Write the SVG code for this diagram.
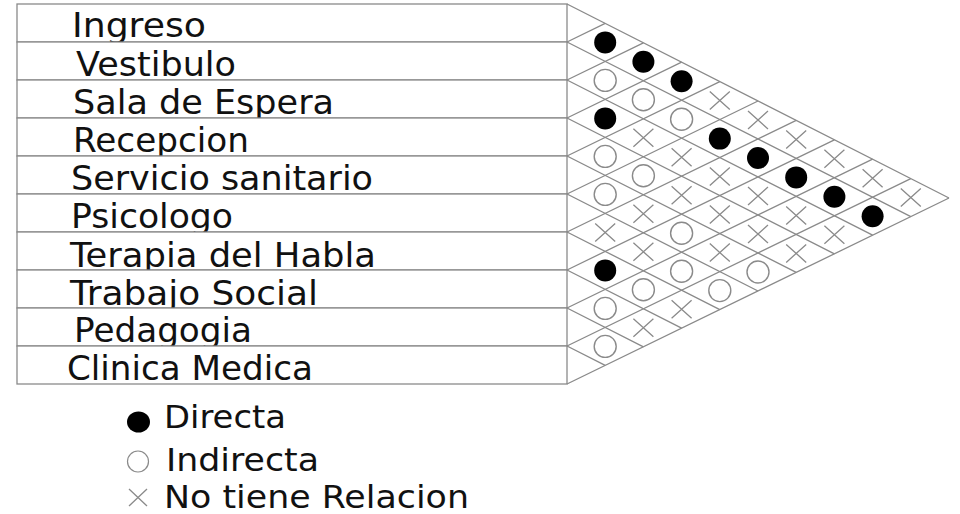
<svg xmlns="http://www.w3.org/2000/svg" xmlns:xlink="http://www.w3.org/1999/xlink" width="960" height="514" viewBox="0 0 960 514">
<style>
.row{fill:#fff;stroke:#8a8a8a;stroke-width:1.3}
.lbl{font-family:"DejaVu Sans","Verdana",sans-serif;font-size:33px;fill:#111}
.leg{font-family:"DejaVu Sans","Verdana",sans-serif;font-size:31.5px;fill:#111}
.grid{stroke:#8a8a8a;stroke-width:1.3;fill:none}
.ring{fill:none;stroke:#8a8a8a;stroke-width:1.4}
.cross{stroke:#8a8a8a;stroke-width:1.3;fill:none}
</style>
<defs>
<circle id="dot" r="11" fill="#000"/>
<circle id="ring" r="11" class="ring"/>
<path id="x" d="M-10,-9 L10,9 M-10,9 L10,-9" class="cross"/>
</defs>
<rect width="960" height="514" fill="#fff"/>
<g id="row-ingreso"><rect class="row" x="17" y="4" width="550" height="38"/><text class="lbl" x="72" y="37" textLength="134" lengthAdjust="spacingAndGlyphs">Ingreso</text></g>
<g id="row-vestibulo"><rect class="row" x="17" y="42" width="550" height="38"/><text class="lbl" x="76" y="76" textLength="160" lengthAdjust="spacingAndGlyphs">Vestibulo</text></g>
<g id="row-sala"><rect class="row" x="17" y="80" width="550" height="38"/><text class="lbl" x="73" y="114" textLength="261" lengthAdjust="spacingAndGlyphs">Sala de Espera</text></g>
<g id="row-recepcion"><rect class="row" x="17" y="118" width="550" height="38"/><text class="lbl" x="73" y="152" textLength="176" lengthAdjust="spacingAndGlyphs">Recepcion</text></g>
<g id="row-servicio"><rect class="row" x="17" y="156" width="550" height="38"/><text class="lbl" x="71" y="190" textLength="302" lengthAdjust="spacingAndGlyphs">Servicio sanitario</text></g>
<g id="row-psicologo"><rect class="row" x="17" y="194" width="550" height="38"/><text class="lbl" x="71" y="228" textLength="162" lengthAdjust="spacingAndGlyphs">Psicologo</text></g>
<g id="row-terapia"><rect class="row" x="17" y="232" width="550" height="38"/><text class="lbl" x="70" y="267" textLength="306" lengthAdjust="spacingAndGlyphs">Terapia del Habla</text></g>
<g id="row-trabajo"><rect class="row" x="17" y="270" width="550" height="38"/><text class="lbl" x="70" y="305" textLength="248" lengthAdjust="spacingAndGlyphs">Trabajo Social</text></g>
<g id="row-pedagogia"><rect class="row" x="17" y="308" width="550" height="38"/><text class="lbl" x="74" y="342" textLength="178" lengthAdjust="spacingAndGlyphs">Pedagogia</text></g>
<g id="row-clinica"><rect class="row" x="17" y="346" width="550" height="38"/><text class="lbl" x="67" y="380" textLength="246" lengthAdjust="spacingAndGlyphs">Clinica Medica</text></g>
<g id="connectors" class="grid">
<path d="M567,4 L949,198 M567,42 L910.8,216.6 M567,80 L872.6,235.2 M567,118 L834.4,253.8 M567,156 L796.2,272.4 M567,194 L758,291 M567,232 L719.8,309.6 M567,270 L681.6,328.2 M567,308 L643.4,346.8 M567,346 L605.2,365.4"/>
<path d="M567,42 L605.2,23.4 M567,80 L643.4,42.8 M567,118 L681.6,62.2 M567,156 L719.8,81.6 M567,194 L758,101 M567,232 L796.2,120.4 M567,270 L834.4,139.8 M567,308 L872.6,159.2 M567,346 L910.8,178.6 M567,384 L949,198"/>
</g>
<g id="cells">
<use xlink:href="#dot" x="605.2" y="42.4"/>
<use xlink:href="#ring" x="605.2" y="80.4"/>
<use xlink:href="#dot" x="605.2" y="118.4"/>
<use xlink:href="#ring" x="605.2" y="156.4"/>
<use xlink:href="#ring" x="605.2" y="194.4"/>
<use xlink:href="#x" x="605.2" y="232.4"/>
<use xlink:href="#dot" x="605.2" y="270.4"/>
<use xlink:href="#ring" x="605.2" y="308.4"/>
<use xlink:href="#ring" x="605.2" y="346.4"/>
<use xlink:href="#dot" x="643.4" y="61.8"/>
<use xlink:href="#ring" x="643.4" y="99.8"/>
<use xlink:href="#x" x="643.4" y="137.8"/>
<use xlink:href="#ring" x="643.4" y="175.8"/>
<use xlink:href="#x" x="643.4" y="213.8"/>
<use xlink:href="#x" x="643.4" y="251.8"/>
<use xlink:href="#ring" x="643.4" y="289.8"/>
<use xlink:href="#x" x="643.4" y="327.8"/>
<use xlink:href="#dot" x="681.6" y="81.2"/>
<use xlink:href="#ring" x="681.6" y="119.2"/>
<use xlink:href="#x" x="681.6" y="157.2"/>
<use xlink:href="#x" x="681.6" y="195.2"/>
<use xlink:href="#ring" x="681.6" y="233.2"/>
<use xlink:href="#ring" x="681.6" y="271.2"/>
<use xlink:href="#x" x="681.6" y="309.2"/>
<use xlink:href="#x" x="719.8" y="100.6"/>
<use xlink:href="#dot" x="719.8" y="138.6"/>
<use xlink:href="#x" x="719.8" y="176.6"/>
<use xlink:href="#x" x="719.8" y="214.6"/>
<use xlink:href="#x" x="719.8" y="252.6"/>
<use xlink:href="#ring" x="719.8" y="290.6"/>
<use xlink:href="#x" x="758" y="120"/>
<use xlink:href="#dot" x="758" y="158"/>
<use xlink:href="#x" x="758" y="196"/>
<use xlink:href="#x" x="758" y="234"/>
<use xlink:href="#ring" x="758" y="272"/>
<use xlink:href="#x" x="796.2" y="139.4"/>
<use xlink:href="#dot" x="796.2" y="177.4"/>
<use xlink:href="#x" x="796.2" y="215.4"/>
<use xlink:href="#x" x="796.2" y="253.4"/>
<use xlink:href="#x" x="834.4" y="158.8"/>
<use xlink:href="#dot" x="834.4" y="196.8"/>
<use xlink:href="#x" x="834.4" y="234.8"/>
<use xlink:href="#x" x="872.6" y="178.2"/>
<use xlink:href="#dot" x="872.6" y="216.2"/>
<use xlink:href="#x" x="910.8" y="197.6"/>
</g>
<g id="legend">
<ellipse cx="138.5" cy="422" rx="11.5" ry="10.5" fill="#000"/>
<text class="leg" x="164" y="428" textLength="122" lengthAdjust="spacingAndGlyphs">Directa</text>
<circle cx="138" cy="461.5" r="10.5" fill="none" stroke="#8a8a8a" stroke-width="1.2"/>
<text class="leg" x="166" y="470.5" textLength="153" lengthAdjust="spacingAndGlyphs">Indirecta</text>
<path d="M129,489 L147,506 M129,506 L147,489" class="cross" stroke-width="1.2"/>
<text class="leg" x="164" y="508" textLength="305" lengthAdjust="spacingAndGlyphs">No tiene Relacion</text>
</g>
</svg>
